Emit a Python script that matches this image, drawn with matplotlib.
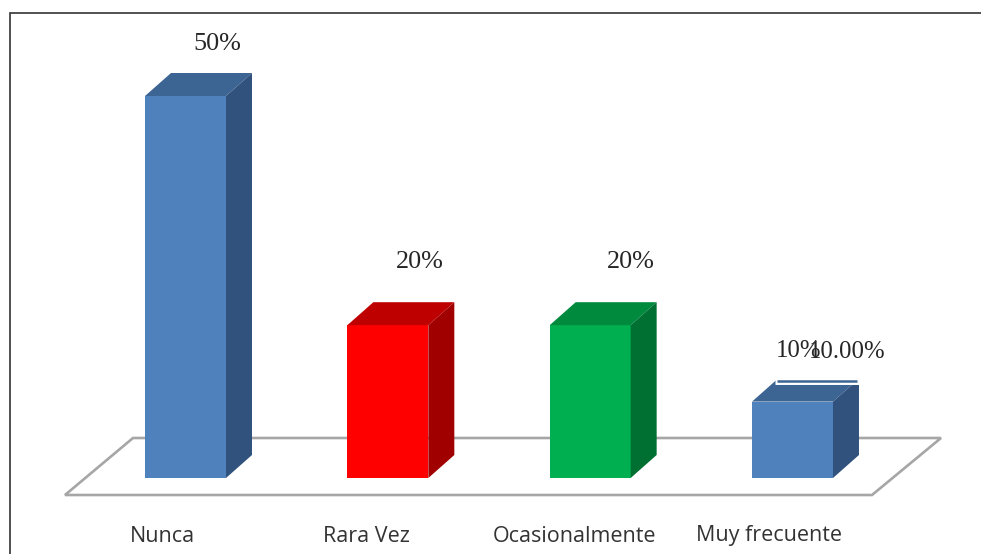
#!/usr/bin/env python3

import matplotlib
matplotlib.use("Agg")
import matplotlib.pyplot as plt
from matplotlib.patches import Polygon

categories = ["Nunca", "Rara Vez", "Ocasionalmente", "Muy frecuente"]
values = [50, 20, 20, 10]
value_labels = ["50%", "20%", "20%", "10%"]
extra_label = "10.00%"

front_colors = ["#4F81BD", "#FF0000", "#00B050", "#4F81BD"]
top_colors = ["#3D6594", "#BF0000", "#008A3E", "#3D6594"]
side_colors = ["#30527C", "#A00000", "#006F32", "#30527C"]

W, H = 981, 554
# pixel scale of the value axis and the category axis
PX_X = 202.33
PX_Y = 7.64
X0 = 185.5
Y0 = 478


def dx(px):
    return (px - X0) / PX_X


def dy(py):
    return (Y0 - py) / PX_Y


fig = plt.figure(figsize=(W / 100, H / 100), dpi=100)
ax = fig.add_axes([0, 0, 1, 1])
ax.set_xlim(dx(0), dx(W))
ax.set_ylim(dy(H), dy(0))
ax.axis("off")

# floor of the 3d box
floor = [(65, 495), (872, 495), (941, 438), (133, 438)]
ax.add_patch(Polygon([(dx(a), dy(b)) for a, b in floor], closed=True, fc="white",
                     ec="#A6A6A6", lw=1.9, zorder=1))

# frame, only left and top are visible
ax.plot([dx(9.5), dx(9.5), dx(W)], [dy(H), dy(13.5), dy(13.5)], color="#333333", lw=1.2,
        solid_joinstyle="miter", zorder=1)

# bars: front face from the library, depth faces on top of it
bar_w = 81 / PX_X
depth_x = 26 / PX_X
depth_y = 23 / PX_Y
xs = list(range(len(values)))
ax.bar(xs, values, width=bar_w, color=front_colors, ec="none", zorder=3)
for x, v, ct, cs in zip(xs, values, top_colors, side_colors):
    l = x - bar_w / 2
    r = x + bar_w / 2
    ax.add_patch(Polygon([(l, v), (r, v), (r + depth_x, v + depth_y), (l + depth_x, v + depth_y)],
                         closed=True, fc=ct, ec="none", zorder=3))
    ax.add_patch(Polygon([(r, 0), (r + depth_x, depth_y), (r + depth_x, v + depth_y), (r, v)],
                         closed=True, fc=cs, ec="none", zorder=3))

# white leader with a blue core across the top of the last bar
ax.plot([dx(775), dx(860)], [dy(381), dy(381)], color="white", lw=5, solid_capstyle="butt", zorder=4)
ax.plot([dx(777), dx(857)], [dy(380.5), dy(380.5)], color="#3D6594", lw=1.8, solid_capstyle="butt", zorder=5)

# value labels
label_shift_x = [31.5, 31.5, 40.5, 6]
label_shift_y = [52, 63, 63, 50.5]
label_sizes = [18.8, 18.8, 18.8, 17.8]
for x, v, s, sx, sy, fs in zip(xs, values, value_labels, label_shift_x, label_shift_y, label_sizes):
    ax.text(x + sx / PX_X, v + sy / PX_Y, s, family="Liberation Serif", fontsize=fs,
            color="#262626", ha="center", va="center", zorder=6)
ax.text(dx(847), dy(352), extra_label, family="Liberation Serif", fontsize=17.8,
        color="#262626", ha="center", va="center", zorder=6)

# category labels
cat_shift = [-23.5, -21, -16, -23.5]
for x, c, sx in zip(xs, categories, cat_shift):
    ax.text(x + sx / PX_X, dy(536), c, family="Open Sans", fontsize=15.5,
            color="#333333", ha="center", va="center", zorder=6)

fig.savefig("out.png", dpi=100)
